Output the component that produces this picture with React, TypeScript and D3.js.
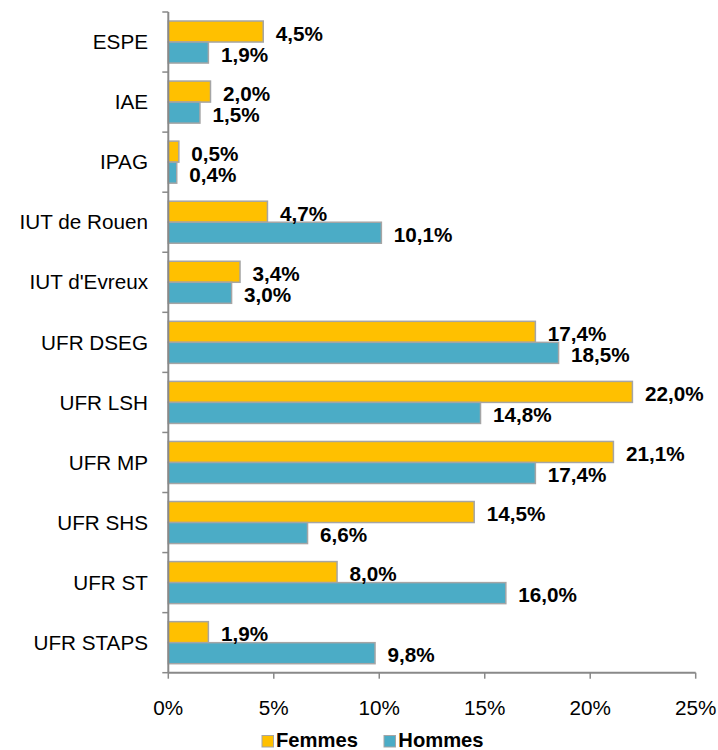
import React from "react";
import * as d3 from "d3";

const categories = [
  "ESPE",
  "IAE",
  "IPAG",
  "IUT de Rouen",
  "IUT d'Evreux",
  "UFR DSEG",
  "UFR LSH",
  "UFR MP",
  "UFR SHS",
  "UFR ST",
  "UFR STAPS",
];
const femmes = [4.5, 2.0, 0.5, 4.7, 3.4, 17.4, 22.0, 21.1, 14.5, 8.0, 1.9];
const hommes = [1.9, 1.5, 0.4, 10.1, 3.0, 18.5, 14.8, 17.4, 6.6, 16.0, 9.8];
const xTicks = [0, 5, 10, 15, 20, 25];
const seriesNames = ["Femmes", "Hommes"];
const seriesColors = ["#FFC000", "#4BACC6"];

const W = 718;
const H = 750;
const left = 168.3;
const right = 695.7;
const top = 12;
const bottom = 672.7;
const FONT = "'Liberation Sans', Arial, sans-serif";
const FS = 20.7;
const AXIS = "#898989";

export default function App() {
  const x = d3.scaleLinear().domain([0, 25]).range([left, right]);
  const y = d3.scaleBand<string>().domain(categories).range([top, bottom]).paddingInner(0).paddingOuter(0);
  const band = y.bandwidth();
  const sub = d3.scaleBand<string>().domain(seriesNames).range([band * 0.15, band * 0.85]);
  const series = [femmes, hommes];
  const fmt = (v: number) => v.toFixed(1).replace(".", ",") + "%";

  return (
    <svg
      width={W}
      height={H}
      style={{ position: "absolute", left: 0, top: 0, display: "block", background: "#fff" }}
      fontFamily={FONT}
    >
      {/* bars */}
      {categories.map((c, i) => (
        <g key={c}>
          {series.map((vals, s) => {
            const y0 = (y(c) as number) + (sub(seriesNames[s]) as number);
            const h = sub.bandwidth();
            return (
              <rect
                key={s}
                x={x(0)}
                y={y0}
                width={x(vals[i]) - x(0)}
                height={h}
                fill={seriesColors[s]}
                stroke="#a5a5a5"
                strokeWidth={1.5}
              />
            );
          })}
        </g>
      ))}
      {/* axes */}
      <line x1={left} x2={left} y1={top} y2={bottom} stroke={AXIS} strokeWidth={2} />
      <line x1={left} x2={right} y1={bottom} y2={bottom} stroke={AXIS} strokeWidth={2} />
      {d3.range(categories.length + 1).map((k) => {
        const yy = top + k * band;
        return <line key={"yt" + k} x1={left - 6} x2={left} y1={yy} y2={yy} stroke={AXIS} strokeWidth={1.5} />;
      })}
      {xTicks.map((t) => (
        <g key={"xt" + t}>
          <line x1={x(t)} x2={x(t)} y1={bottom} y2={bottom + 6} stroke={AXIS} strokeWidth={1.5} />
          <text x={x(t)} y={714.5} textAnchor="middle" fontSize={FS} fill="#000">
            {t + "%"}
          </text>
        </g>
      ))}
      {/* category labels */}
      {categories.map((c) => (
        <text key={"cl" + c} x={148} y={(y(c) as number) + band / 2 + 7.2} textAnchor="end" fontSize={FS} fill="#000">
          {c}
        </text>
      ))}
      {/* value labels */}
      {categories.map((c, i) => (
        <g key={"vl" + c}>
          {series.map((vals, s) => {
            const yc = (y(c) as number) + (sub(seriesNames[s]) as number) + sub.bandwidth() / 2;
            return (
              <text
                key={s}
                x={x(vals[i]) + 12.5}
                y={yc + 9}
                fontSize={FS}
                fontWeight="bold"
                fill="#000"
              >
                {fmt(vals[i])}
              </text>
            );
          })}
        </g>
      ))}
      {/* legend */}
      <g>
        <rect x={262} y={735.5} width={11.5} height={11.5} fill={seriesColors[0]} stroke="#a5a5a5" strokeWidth={1} />
        <text x={276} y={746.5} fontSize={20.2} fontWeight="bold" fill="#000">
          {seriesNames[0]}
        </text>
        <rect x={384} y={735.5} width={11.5} height={11.5} fill={seriesColors[1]} stroke="#a5a5a5" strokeWidth={1} />
        <text x={398.3} y={746.5} fontSize={20.2} fontWeight="bold" fill="#000">
          {seriesNames[1]}
        </text>
      </g>
    </svg>
  );
}
